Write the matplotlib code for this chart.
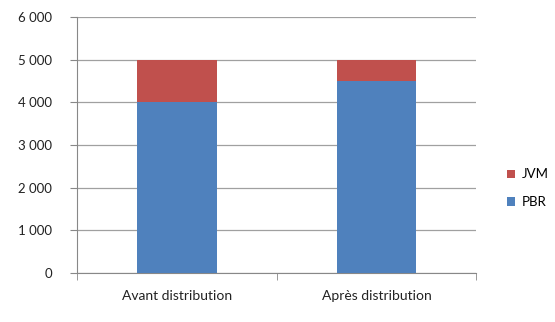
import matplotlib.pyplot as plt
from matplotlib.ticker import FuncFormatter

plt.rcParams['font.family'] = ['Lato', 'DejaVu Sans']

categories = ["Avant distribution", "Après distribution"]
pbr = [4000, 4500]
jvm = [1000, 500]
y_ticks = [0, 1000, 2000, 3000, 4000, 5000, 6000]

fig = plt.figure(figsize=(5.55, 3.22), dpi=100)
ax = fig.add_axes([0.139, 0.152, 0.719, 0.795])

x = range(len(categories))
b1 = ax.bar(x, pbr, width=0.4, color="#4F81BD", label="PBR", zorder=3)
b2 = ax.bar(x, jvm, width=0.4, bottom=pbr, color="#C0504D", label="JVM", zorder=3)

ax.set_xlim(-0.5, 1.5)
ax.set_ylim(0, 6000)
ax.set_yticks(y_ticks)
ax.yaxis.set_major_formatter(FuncFormatter(lambda v, p: f"{int(v):,}".replace(",", " ")))
ax.set_xticks(list(x))
ax.set_xticklabels(categories)
ax.set_xticks([-0.5, 0.5, 1.5], minor=True)
ax.tick_params(axis="x", which="major", length=0, pad=12, labelsize=10, colors="#222222")
ax.tick_params(axis="x", which="minor", length=5, color="#888888", direction="out")
ax.tick_params(axis="y", length=5, color="#888888", labelcolor="#222222", labelsize=9.5, pad=13)

ax.grid(axis="y", color="#A0A0A0", linewidth=0.9, zorder=0)
for s in ["top", "right"]:
    ax.spines[s].set_visible(False)
for s in ["left", "bottom"]:
    ax.spines[s].set_color("#888888")

ax.legend([b2, b1], ["JVM", "PBR"], loc="center left", bbox_to_anchor=(0.893, 0.415),
          bbox_transform=fig.transFigure, frameon=False, handlelength=0.6, handleheight=0.6,
          handletextpad=0.5, labelspacing=1.2, fontsize=9.5)

fig.savefig("out.png", dpi=100)
